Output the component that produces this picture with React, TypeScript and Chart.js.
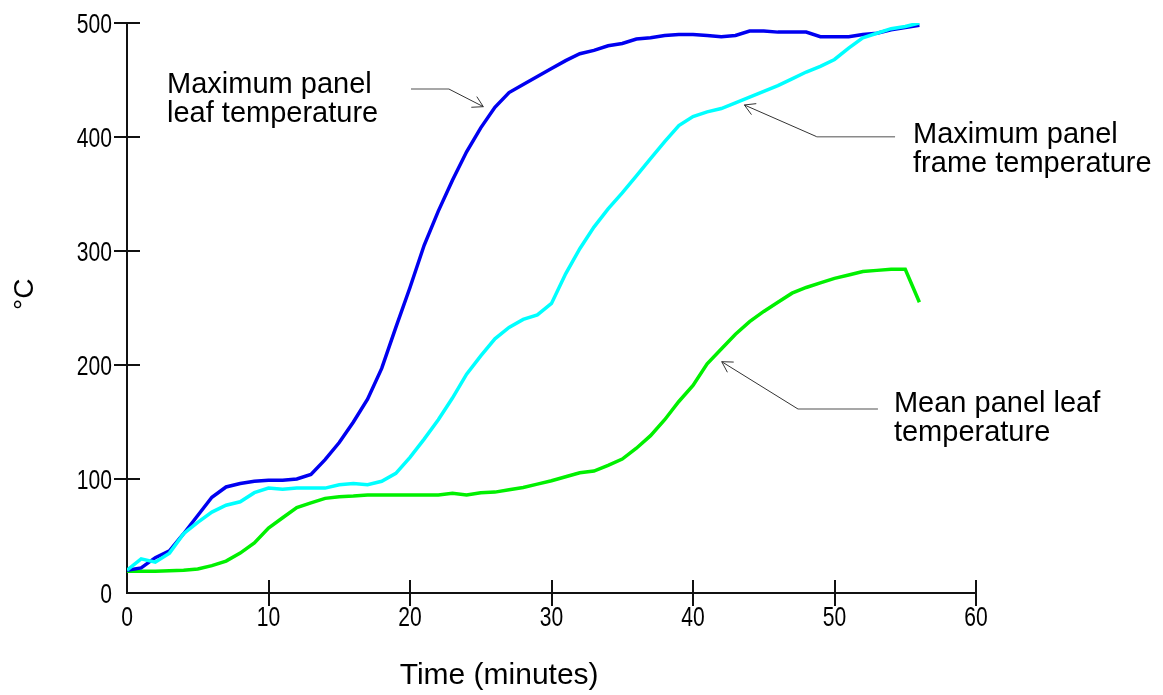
import React, { useEffect, useRef } from "react";
import { Chart, registerables } from "chart.js";

Chart.register(...registerables);

// ---- data ----
const TIME_MIN = [
  0, 1, 2, 3, 4, 5, 6, 7, 8, 9, 10, 11, 12, 13, 14, 15, 16, 17, 18, 19, 20,
  21, 22, 23, 24, 25, 26, 27, 28, 29, 30, 31, 32, 33, 34, 35, 36, 37, 38, 39,
  40, 41, 42, 43, 44, 45, 46, 47, 48, 49, 50, 51, 52, 53, 54, 55, 56,
];

const MAX_LEAF = [
  20, 22, 31, 37, 52, 68, 84, 93, 96, 98, 99, 99, 100, 104, 117, 132, 150, 170,
  197, 233, 268, 305, 335, 362, 387, 408, 426, 439, 446, 453, 460, 467, 473,
  476, 480, 482, 486, 487, 489, 490, 490, 489, 488, 489, 493, 493, 492, 492,
  492, 488, 488, 488, 490, 491, 494, 496, 498,
];

const MAX_FRAME = [
  20, 30, 27, 35, 52, 62, 71, 77, 80, 88, 92, 91, 92, 92, 92, 95, 96, 95, 98,
  105, 119, 135, 152, 171, 192, 208, 223, 233, 240, 244, 254, 280, 302, 321,
  337, 351, 366, 381, 396, 410, 418, 422, 425, 430, 435, 440, 445, 451, 457,
  462, 468, 478, 487, 491, 495, 497, 500,
];

const MEAN_LEAF = [
  19, 19, 19, 19.5, 20, 21, 24, 28, 35, 44, 57, 66, 75, 79, 83, 84.5, 85, 86,
  86, 86, 86, 86, 86, 87.5, 86, 88, 88.5, 90.5, 92.5, 95.5, 98.5, 102, 105.5,
  107, 112, 117.5, 127, 138, 152, 168, 182, 201, 214, 227, 238, 247, 255, 263,
  268, 272, 276, 279, 282, 283, 284, 284, 255,
];

const X_TICKS = [0, 10, 20, 30, 40, 50, 60];
const Y_TICKS = [0, 100, 200, 300, 400, 500];

const X_TITLE = "Time (minutes)";
const Y_TITLE = "°C";

// annotation texts and anchors (data units: [minutes, °C])
const NOTE_LINES = [
  ["Maximum panel", "leaf temperature"],
  ["Maximum panel", "frame temperature"],
  ["Mean panel leaf", "temperature"],
];
const NOTE_TEXT_AT = [
  [2.83, 438.6],
  [55.55, 395],
  [54.2, 159],
];
const NOTE_ARROW_START = [
  [20.07, 442],
  [54.28, 400.3],
  [53.07, 161.4],
];
const NOTE_ARROW_ELBOW = [
  [22.76, 442],
  [48.74, 400.3],
  [47.42, 161.4],
];
const NOTE_ARROW_TIP = [
  [25.18, 426.6],
  [43.63, 428.1],
  [42.03, 202.9],
];

const FONT = "'Liberation Sans', Arial, sans-serif";

const toXY = (vals: number[]) => TIME_MIN.map((t, i) => ({ x: t, y: vals[i] }));

const axisDecor = {
  id: "axisDecor",
  afterDatasetsDraw(chart: any) {
    const { ctx, chartArea, scales } = chart;
    const xs = scales.x;
    const ys = scales.y;
    ctx.save();
    // inner halves of the crossing ticks
    ctx.strokeStyle = "#111";
    ctx.lineWidth = 2;
    ctx.beginPath();
    X_TICKS.forEach((v) => {
      if (v === 0) return;
      const px = Math.round(xs.getPixelForValue(v));
      ctx.moveTo(px, chartArea.bottom);
      ctx.lineTo(px, chartArea.bottom - 13);
    });
    Y_TICKS.forEach((v) => {
      if (v === 0) return;
      const py = Math.round(ys.getPixelForValue(v));
      ctx.moveTo(chartArea.left, py);
      ctx.lineTo(chartArea.left + 13, py);
    });
    ctx.stroke();

    // tick labels (slightly condensed face)
    ctx.fillStyle = "#000";
    ctx.font = `27px ${FONT}`;
    ctx.textBaseline = "alphabetic";
    const sx = 0.78;
    Y_TICKS.forEach((v) => {
      const py = ys.getPixelForValue(v);
      ctx.save();
      ctx.translate(chartArea.left - 15, py + 9.5);
      ctx.scale(sx, 1);
      ctx.textAlign = "right";
      ctx.fillText(String(v), 0, 0);
      ctx.restore();
    });
    X_TICKS.forEach((v) => {
      const px = xs.getPixelForValue(v);
      ctx.save();
      ctx.translate(px, chartArea.bottom + 33);
      ctx.scale(sx, 1);
      ctx.textAlign = "center";
      ctx.fillText(String(v), 0, 0);
      ctx.restore();
    });
    ctx.restore();
  },
};

const notes = {
  id: "notes",
  afterDraw(chart: any) {
    const { ctx, scales, chartArea } = chart;
    const xs = scales.x;
    const ys = scales.y;
    const P = (p: number[]) => [xs.getPixelForValue(p[0]), ys.getPixelForValue(p[1])];
    ctx.save();
    NOTE_LINES.forEach((lines, i) => {
      const [tx, ty] = P(NOTE_TEXT_AT[i]);
      ctx.fillStyle = "#000";
      ctx.font = `29px ${FONT}`;
      ctx.textAlign = "left";
      ctx.textBaseline = "alphabetic";
      lines.forEach((ln, j) => ctx.fillText(ln, tx, ty + j * 29));

      const [sx, sy] = P(NOTE_ARROW_START[i]);
      const [ex, ey] = P(NOTE_ARROW_ELBOW[i]);
      const [px, py] = P(NOTE_ARROW_TIP[i]);
      ctx.strokeStyle = "#8a8a8a";
      ctx.lineWidth = 1.5;
      ctx.beginPath();
      ctx.moveTo(sx, sy);
      ctx.lineTo(ex, ey);
      ctx.stroke();
      ctx.strokeStyle = "#333";
      ctx.lineWidth = 1;
      ctx.beginPath();
      ctx.moveTo(ex, ey);
      ctx.lineTo(px, py);
      const ang = Math.atan2(ey - py, ex - px);
      const hl = 12;
      const spread = (30 * Math.PI) / 180;
      ctx.moveTo(px + hl * Math.cos(ang + spread), py + hl * Math.sin(ang + spread));
      ctx.lineTo(px, py);
      ctx.lineTo(px + hl * Math.cos(ang - spread), py + hl * Math.sin(ang - spread));
      ctx.stroke();
    });
    // axis titles
    ctx.fillStyle = "#000";
    ctx.font = `30px ${FONT}`;
    ctx.textAlign = "center";
    ctx.textBaseline = "alphabetic";
    ctx.fillText(X_TITLE, xs.getPixelForValue(26.3), chartArea.bottom + 91);
    ctx.save();
    ctx.translate(chartArea.left - 102, ys.getPixelForValue(262));
    ctx.rotate(-Math.PI / 2);
    ctx.font = `28px ${FONT}`;
    ctx.textBaseline = "middle";
    ctx.fillText(Y_TITLE, 0, 0);
    ctx.restore();
    ctx.restore();
  },
};

export default function App() {
  const ref = useRef<HTMLCanvasElement | null>(null);
  useEffect(() => {
    if (!ref.current) return;
    Chart.defaults.font.family = FONT;
    const tickColor = (c: any) =>
      c.tick && c.tick.value === 0 ? "rgba(0,0,0,0)" : "#111";
    const chart = new Chart(ref.current, {
      type: "line",
      data: {
        datasets: [
          {
            label: "Maximum panel frame temperature",
            data: toXY(MAX_FRAME),
            borderColor: "#00FFFF",
            borderWidth: 3.5,
            pointRadius: 0,
            tension: 0,
            fill: false,
          },
          {
            label: "Maximum panel leaf temperature",
            data: toXY(MAX_LEAF),
            borderColor: "#0000F0",
            borderWidth: 3.5,
            pointRadius: 0,
            tension: 0,
            fill: false,
          },
          {
            label: "Mean panel leaf temperature",
            data: toXY(MEAN_LEAF),
            borderColor: "#00F000",
            borderWidth: 3.5,
            pointRadius: 0,
            tension: 0,
            fill: false,
          },
        ],
      },
      options: {
        animation: false,
        responsive: true,
        maintainAspectRatio: false,
        layout: { padding: { top: 23, right: 187, bottom: 0, left: 0 } },
        plugins: {
          legend: { display: false },
          tooltip: { enabled: false },
          title: { display: false },
        },
        scales: {
          x: {
            type: "linear",
            min: 0,
            max: 60,
            afterBuildTicks: (s: any) => {
              s.ticks = X_TICKS.map((v) => ({ value: v }));
            },
            afterFit: (s: any) => {
              s.height = 102;
            },
            ticks: { display: false },
            grid: {
              drawOnChartArea: false,
              drawTicks: true,
              tickLength: 13,
              color: tickColor,
              lineWidth: 2,
            },
            border: { display: true, color: "#111", width: 2 },
          },
          y: {
            type: "linear",
            min: 0,
            max: 500,
            afterBuildTicks: (s: any) => {
              s.ticks = Y_TICKS.map((v) => ({ value: v }));
            },
            afterFit: (s: any) => {
              s.width = 127;
            },
            ticks: { display: false },
            grid: {
              drawOnChartArea: false,
              drawTicks: true,
              tickLength: 13,
              color: tickColor,
              lineWidth: 2,
            },
            border: { display: true, color: "#111", width: 2 },
          },
        },
      },
      plugins: [axisDecor, notes],
    });
    return () => chart.destroy();
  }, []);

  return (
    <div
      style={{
        position: "absolute",
        left: 0,
        top: 0,
        width: 1163,
        height: 695,
        background: "#fff",
      }}
    >
      <canvas ref={ref} />
    </div>
  );
}
